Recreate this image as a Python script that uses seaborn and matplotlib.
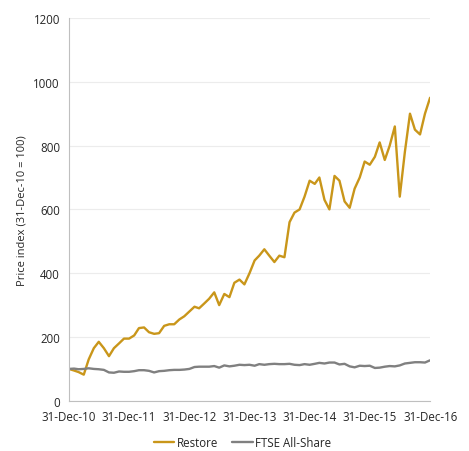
import numpy as np
import pandas as pd
import matplotlib
matplotlib.use("Agg")
import matplotlib.pyplot as plt
import matplotlib.dates as mdates
import seaborn as sns

# month-end values, 31-Dec-10 .. 31-Dec-16
restore = [100, 95, 90, 82, 130, 165, 185, 165, 140, 165, 180, 195,
           195, 205, 228, 230, 215, 210, 212, 235, 240, 240, 255, 265,
           280, 295, 290, 305, 320, 340, 300, 335, 325, 370, 380, 365,
           400, 440, 455, 475, 455, 435, 455, 450, 560, 590, 600, 640,
           690, 680, 700, 630, 600, 705, 690, 625, 605, 665, 700, 750,
           740, 765, 810, 755, 800, 860, 640, 780, 900, 850, 835, 900,
           950]
ftse = [100, 101, 99, 100, 102, 100, 99, 97, 89, 88, 92, 91,
        91, 93, 96, 96, 94, 89, 93, 94, 96, 97, 97, 98,
        100, 106, 107, 107, 107, 109, 104, 111, 108, 110, 113, 112,
        113, 110, 115, 113, 115, 116, 115, 115, 116, 113, 112, 115,
        113, 116, 119, 117, 120, 120, 114, 116, 108, 105, 110, 109,
        110, 103, 104, 107, 109, 108, 111, 117, 119, 121, 121, 120,
        127]
dates = pd.date_range("2010-12-31", "2016-12-31", freq="ME")
tick_dates = pd.date_range("2010-12-31", "2016-12-31", freq="YE")

df = pd.DataFrame({"date": list(dates) * 2,
                   "value": restore + ftse,
                   "series": ["Restore"] * len(dates) + ["FTSE All-Share"] * len(dates)})

sns.set_style("white")
plt.rcParams["font.family"] = ["Open Sans", "DejaVu Sans"]

fig = plt.figure(figsize=(4.69, 4.52), dpi=100)
ax = fig.add_axes([0.147, 0.111, 0.77, 0.847])

sns.lineplot(data=df, x="date", y="value", hue="series",
             palette={"Restore": "#C9961A", "FTSE All-Share": "#808080"},
             linewidth=1.7, ax=ax)

ax.set_ylim(0, 1200)
ax.set_yticks(range(0, 1201, 200))
ax.set_xlim(dates[0], dates[-1])
ax.set_xticks(tick_dates)
ax.xaxis.set_major_formatter(mdates.DateFormatter("%d-%b-%y"))
ax.yaxis.grid(True, color="#ececec", linewidth=0.8)
ax.set_axisbelow(True)

for s in ["top", "right"]:
    ax.spines[s].set_visible(False)
for s in ["left", "bottom"]:
    ax.spines[s].set_color("#bfbfbf")
    ax.spines[s].set_linewidth(0.8)
ax.tick_params(axis="both", colors="#bfbfbf", length=3, width=0.8,
               labelsize=8.3, labelcolor="#262626")

ax.set_xlabel("")
ax.set_ylabel("Price index (31-Dec-10 = 100)", fontsize=8, color="#262626")

ax.legend(loc="upper center", bbox_to_anchor=(0.48, -0.065), ncol=2,
          frameon=False, fontsize=8.3, handlelength=1.8, handletextpad=0.2,
          columnspacing=1.2)

fig.savefig("out.png", dpi=100)
